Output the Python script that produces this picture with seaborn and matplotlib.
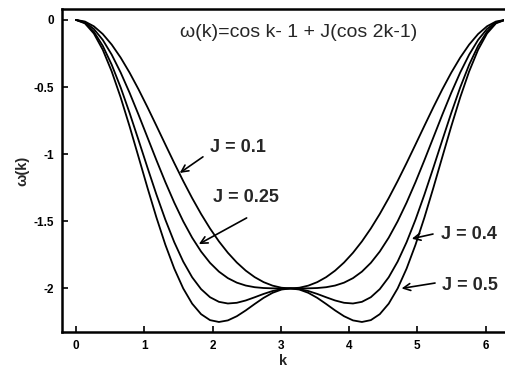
import matplotlib
matplotlib.use("Agg")
import matplotlib.pyplot as plt
import seaborn as sns
import pandas as pd

# k grid (0 .. 2*pi)
k_vals = [0.0, 0.1309, 0.2618, 0.3927, 0.5236, 0.6545, 0.7854, 0.9163, 1.0472, 1.1781,
          1.3090, 1.4399, 1.5708, 1.7017, 1.8326, 1.9635, 2.0944, 2.2253, 2.3562, 2.4871,
          2.6180, 2.7489, 2.8798, 3.0107, 3.1416, 3.2725, 3.4034, 3.5343, 3.6652, 3.7961,
          3.9270, 4.0579, 4.1888, 4.3197, 4.4506, 4.5815, 4.7124, 4.8433, 4.9742, 5.1051,
          5.2360, 5.3669, 5.4978, 5.6287, 5.7596, 5.8905, 6.0214, 6.1523, 6.2832]

omega_J01 = [0, -0.0120, -0.0475, -0.1054, -0.1840, -0.2808, -0.3929, -0.5171, -0.6500, -0.7880,
             -0.9278, -1.0661, -1.2000, -1.3271, -1.4454, -1.5534, -1.6500, -1.7346, -1.8071, -1.8675,
             -1.9160, -1.9532, -1.9793, -1.9949, -2.0000,
             -1.9949, -1.9793, -1.9532, -1.9160, -1.8675, -1.8071, -1.7346, -1.6500, -1.5534, -1.4454,
             -1.3271, -1.2000, -1.0661, -0.9278, -0.7880, -0.6500, -0.5171, -0.3929, -0.2808, -0.1840,
             -0.1054, -0.0475, -0.0120, 0]

omega_J025 = [0, -0.0171, -0.0676, -0.1493, -0.2590, -0.3919, -0.5429, -0.7059, -0.8750, -1.0441,
              -1.2077, -1.3610, -1.5000, -1.6220, -1.7253, -1.8095, -1.8750, -1.9235, -1.9571, -1.9786,
              -1.9910, -1.9971, -1.9994, -2.0000, -2.0000,
              -2.0000, -1.9994, -1.9971, -1.9910, -1.9786, -1.9571, -1.9235, -1.8750, -1.8095, -1.7253,
              -1.6220, -1.5000, -1.3610, -1.2077, -1.0441, -0.8750, -0.7059, -0.5429, -0.3919, -0.2590,
              -0.1493, -0.0676, -0.0171, 0]

omega_J04 = [0, -0.0222, -0.0877, -0.1933, -0.3340, -0.5031, -0.6929, -0.8948, -1.1000, -1.3002,
             -1.4876, -1.6558, -1.8000, -1.9169, -2.0052, -2.0655, -2.1000, -2.1123, -2.1071, -2.0898,
             -2.0660, -2.0410, -2.0195, -2.0051, -2.0000,
             -2.0051, -2.0195, -2.0410, -2.0660, -2.0898, -2.1071, -2.1123, -2.1000, -2.0655, -2.0052,
             -1.9169, -1.8000, -1.6558, -1.4876, -1.3002, -1.1000, -0.8948, -0.6929, -0.5031, -0.3340,
             -0.1933, -0.0877, -0.0222, 0]

omega_J05 = [0, -0.0256, -0.1011, -0.2226, -0.3840, -0.5772, -0.7929, -1.0206, -1.2500, -1.4709,
             -1.6742, -1.8524, -2.0000, -2.1135, -2.1918, -2.2362, -2.2500, -2.2382, -2.2071, -2.1639,
             -2.1160, -2.0703, -2.0329, -2.0085, -2.0000,
             -2.0085, -2.0329, -2.0703, -2.1160, -2.1639, -2.2071, -2.2382, -2.2500, -2.2362, -2.1918,
             -2.1135, -2.0000, -1.8524, -1.6742, -1.4709, -1.2500, -1.0206, -0.7929, -0.5772, -0.3840,
             -0.2226, -0.1011, -0.0256, 0]

J_labels = ["J = 0.1", "J = 0.25", "J = 0.4", "J = 0.5"]
series = [omega_J01, omega_J025, omega_J04, omega_J05]

x_ticks = [0, 1, 2, 3, 4, 5, 6]
y_ticks = [0, -0.5, -1, -1.5, -2]
y_ticklabels = ["0", "-0.5", "-1", "-1.5", "-2"]
title_text = "\u03c9(k)=cos k- 1 + J(cos 2k-1)"

rows = []
for lab, vals in zip(J_labels, series):
    for kk, vv in zip(k_vals, vals):
        rows.append({"k": kk, "omega": vv, "J": lab})
df = pd.DataFrame(rows)

sns.set_style("ticks")
plt.rcParams["font.family"] = ["Liberation Sans", "DejaVu Sans"]
plt.rcParams["axes.unicode_minus"] = False

fig = plt.figure(figsize=(5.06, 3.71), dpi=100)
ax = fig.add_axes([0.1225, 0.105, 0.8735, 0.871])

sns.lineplot(data=df, x="k", y="omega", hue="J", palette=["black"] * 4,
             legend=False, linewidth=1.3, estimator=None, sort=False, ax=ax)

ax.set_xlim(-0.205, 6.27)
ax.set_ylim(-2.325, 0.082)
ax.set_xticks(x_ticks)
ax.set_xticklabels([str(t) for t in x_ticks], fontsize=8.5, fontweight="bold")
ax.set_yticks(y_ticks)
ax.set_yticklabels(y_ticklabels, fontsize=8.5, fontweight="bold")
ax.tick_params(direction="in", length=4, width=1.2, pad=6, colors="black")
ax.set_xlabel("k", fontsize=10.5, fontweight="bold", labelpad=1)
ax.set_ylabel("\u03c9(k)", fontsize=10.5, fontweight="bold", labelpad=3)

for side in ["left", "bottom", "top"]:
    ax.spines[side].set_linewidth(1.8)
    ax.spines[side].set_color("black")
ax.spines["right"].set_visible(False)

ax.text(1.52, -0.097, title_text, fontsize=14, ha="left", va="center")

arrow_kw = dict(arrowstyle="->,head_length=0.5,head_width=0.25", lw=1.2, color="black",
                shrinkA=0, shrinkB=0)
annots = [
    ("J = 0.1", (1.52, -1.14), (1.86, -1.02), (1.96, -0.95)),
    ("J = 0.25", (1.80, -1.67), (2.50, -1.475), (2.01, -1.32)),
    ("J = 0.4", (4.92, -1.63), (5.23, -1.595), (5.35, -1.595)),
    ("J = 0.5", (4.77, -2.00), (5.26, -1.96), (5.36, -1.975)),
]
for lab, head, tail, tpos in annots:
    ax.annotate("", xy=head, xytext=tail, arrowprops=arrow_kw)
    ax.text(tpos[0], tpos[1], lab, fontsize=13, fontweight="bold", ha="left", va="center")

fig.savefig("out.png", dpi=100)
